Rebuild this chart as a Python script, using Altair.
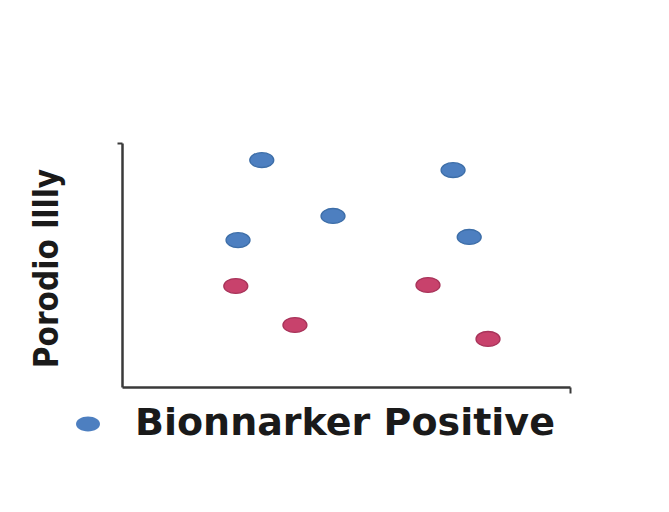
import altair as alt
import pandas as pd

series_labels = ["Bionnarker Positive", "Bionnarker Negative"]

blue_x = [3.12, 7.39, 4.71, 2.59, 7.75]
blue_y = [9.30, 8.89, 7.01, 6.02, 6.15]
red_x = [2.54, 6.83, 3.86, 8.17]
red_y = [4.14, 4.18, 2.54, 1.97]

rows = []
for x, y in zip(blue_x, blue_y):
    rows.append({"x": x, "y": y, "group": series_labels[0]})
for x, y in zip(red_x, red_y):
    rows.append({"x": x, "y": y, "group": series_labels[1]})
df = pd.DataFrame(rows)

ellipse = "M-1,0A1,0.62,0,1,0,1,0A1,0.62,0,1,0,-1,0Z"

chart = alt.Chart(df).mark_point(
    shape=ellipse, filled=True, size=576, opacity=1, strokeWidth=1.3
).encode(
    x=alt.X("x:Q", scale=alt.Scale(domain=[0, 10], nice=False),
            axis=alt.Axis(title=None, labels=False, grid=False, values=[10],
                          tickSize=6, tickWidth=2, domainWidth=2.5,
                          domainColor="#3a3a3a", tickColor="#3a3a3a")),
    y=alt.Y("y:Q", scale=alt.Scale(domain=[0, 10], nice=False),
            axis=alt.Axis(title="Porodio lllly", labels=False, grid=False, values=[10],
                          tickSize=5, tickWidth=2, domainWidth=2.5,
                          domainColor="#3a3a3a", tickColor="#3a3a3a",
                          titleFont="DejaVu Sans Condensed, Liberation Sans Narrow, Roboto",
                          titleFontSize=33, titleFontWeight="bold", titleColor="#1a1a1a",
                          titleAngle=270, titleX=-75, titleY=125,
                          titleAlign="center", titleBaseline="middle")),
    color=alt.Color("group:N",
                    scale=alt.Scale(domain=series_labels, range=["#4d7fc0", "#c8426c"]),
                    legend=alt.Legend(values=[series_labels[0]], title=None, orient="none",
                                      legendX=-53, legendY=262, symbolType=ellipse,
                                      symbolSize=576, labelFontSize=38, labelLimit=0,
                                      labelFont="DejaVu Sans", labelFontWeight="bold",
                                      labelColor="#1a1a1a",
                                      labelOffset=28, symbolStrokeWidth=0)),
    stroke=alt.Stroke("group:N",
                      scale=alt.Scale(domain=series_labels, range=["#3d6ea8", "#a8345a"]),
                      legend=None),
).properties(
    width=448, height=244,
    background="white",
    autosize=alt.AutoSizeParams(type="none"),
    padding={"left": 122, "top": 143, "right": 99, "bottom": 125},
).configure_view(strokeWidth=0, stroke=None)

chart.save("out.html", embed_options={"renderer": "svg", "actions": False})
